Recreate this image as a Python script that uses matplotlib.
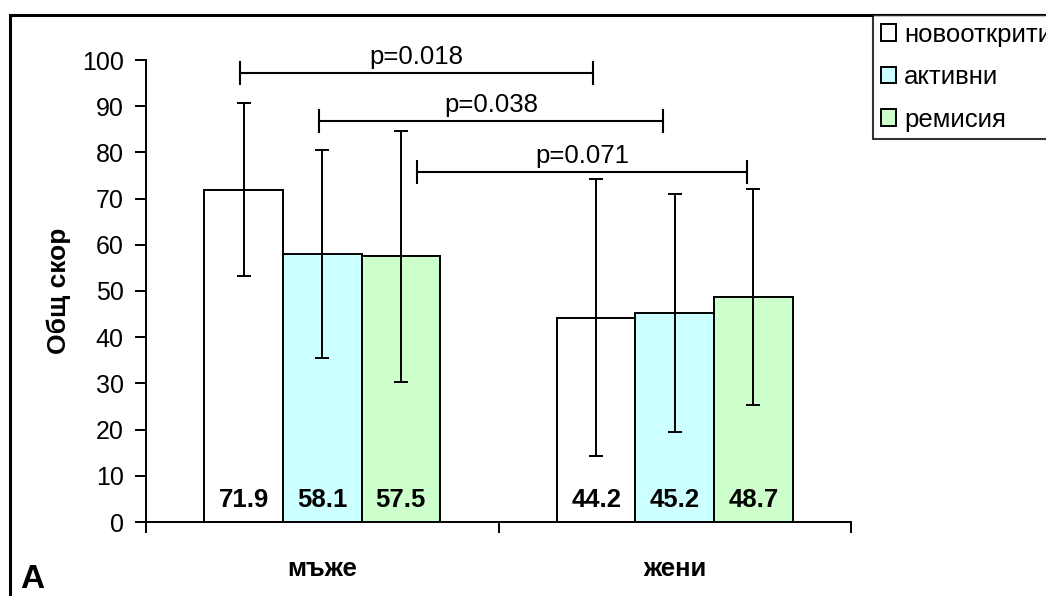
import matplotlib
matplotlib.use("Agg")
import matplotlib.pyplot as plt
from matplotlib.patches import Rectangle
import numpy as np

plt.rcParams['font.family'] = ['Liberation Sans', 'DejaVu Sans']

categories = ['мъже', 'жени']
series_names = ['новооткрити', 'активни', 'ремисия']
series_colors = ['#FFFFFF', '#CCFFFF', '#CCFFCC']
values = {
    'новооткрити': [71.9, 44.2],
    'активни': [58.1, 45.2],
    'ремисия': [57.5, 48.7],
}
errors = {
    'новооткрити': [18.7, 30.0],
    'активни': [22.5, 25.8],
    'ремисия': [27.2, 23.4],
}
# significance brackets: start x, end x (data units), level, label
bracket_x0 = [-0.234, -0.008, 0.270]
bracket_x1 = [0.769, 0.967, 1.204]
bracket_y = [97.2, 86.8, 75.7]
p_labels = ['p=0.018', 'p=0.038', 'p=0.071']
yticks = list(range(0, 101, 10))

W, H = 1046, 596
fig = plt.figure(figsize=(W / 100, H / 100), dpi=100)
ax = fig.add_axes([146 / W, 1 - 522 / H, (851 - 146) / W, (522 - 60) / H])

x = np.arange(len(categories))
bw = 0.223
offsets = [-bw, 0, bw]
bars = []
for name, col, off in zip(series_names, series_colors, offsets):
    b = ax.bar(x + off, values[name], width=bw, color=col, edgecolor='black',
               linewidth=1.4, label=name, zorder=2)
    bars.append(b)
    ax.errorbar(x + off, values[name], yerr=errors[name], fmt='none',
                ecolor='black', elinewidth=1.4, capsize=5, capthick=1.4, zorder=3)
    for xi, v in zip(x + off, values[name]):
        ax.text(xi, 4.7, f'{v:.1f}', ha='center', va='center', fontsize=18.5,
                fontweight='bold', zorder=4)

for x0, x1, yb, lab in zip(bracket_x0, bracket_x1, bracket_y, p_labels):
    ax.plot([x0, x1], [yb, yb], color='black', lw=1.5, clip_on=False, zorder=5)
    for xe in (x0, x1):
        ax.plot([xe, xe], [yb - 2.4, yb + 2.4], color='black', lw=1.5,
                clip_on=False, zorder=5)
    ax.text((x0 + x1) / 2, yb + 0.9, lab, ha='center', va='bottom', fontsize=18.5,
            clip_on=False)

ax.set_xlim(-0.5, 1.5)
ax.set_ylim(0, 100)
ax.set_yticks(yticks)
ax.tick_params(axis='y', direction='out', length=8, width=1.4, labelsize=18, pad=8)
ax.set_xticks([-0.5, 0.5, 1.5])
ax.set_xticklabels([])
ax.tick_params(axis='x', which='major', direction='out', length=8, width=1.4)
ax.set_xticks(x, minor=True)
ax.set_xticklabels(categories, minor=True, fontsize=18.5, fontweight='bold')
ax.tick_params(axis='x', which='minor', length=0, pad=25)
for s in ['top', 'right']:
    ax.spines[s].set_visible(False)
for s in ['left', 'bottom']:
    ax.spines[s].set_linewidth(1.4)
ax.set_ylabel('Общ скор', fontsize=19, fontweight='bold', labelpad=8)

# outer frame
fig.patches.append(Rectangle((10 / W, -0.05), 1.2, 1 - 15 / H + 0.05,
                             transform=fig.transFigure, fill=False,
                             edgecolor='black', linewidth=2.2, zorder=0))

leg = fig.legend(handles=bars, labels=series_names, loc='upper left',
                 bbox_to_anchor=(873 / W, 1 - 15 / H), fontsize=18.5,
                 frameon=True, fancybox=False, shadow=False,
                 handlelength=0.6, handleheight=0.6, handletextpad=0.3,
                 labelspacing=0.72, borderpad=0.3, borderaxespad=0)
leg.get_frame().set_edgecolor('black')
leg.get_frame().set_linewidth(1.5)

fig.text(20 / W, 1 - 580 / H, 'A', fontsize=24, fontweight='bold', va='center',
         ha='left')

fig.savefig('out.png', dpi=100)
